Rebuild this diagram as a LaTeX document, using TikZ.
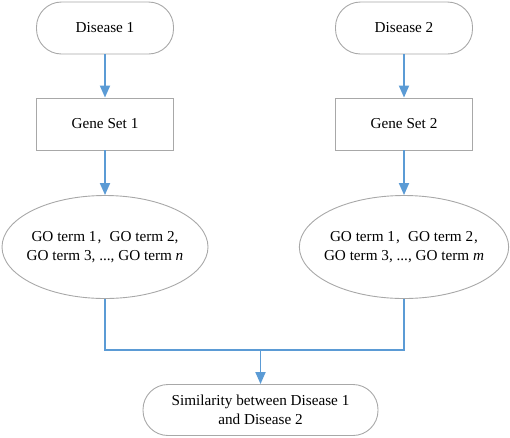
\documentclass[tikz,border=0pt]{standalone}
\usepackage{fontspec}
\setmainfont{Liberation Serif}
\usetikzlibrary{shapes.geometric,arrows.meta}
\definecolor{edgegray}{HTML}{A8A8A8}
\definecolor{flowblue}{HTML}{5B9BD5}
\tikzset{
  base/.style={draw=edgegray,line width=0.9pt,font=\fontsize{15.2}{18.5}\selectfont,align=center,inner sep=0pt,text=black},
  pill/.style={base,rectangle,rounded corners=25pt,minimum width=137pt,minimum height=52pt},
  boxnode/.style={base,rectangle,minimum width=137pt,minimum height=52pt},
  oval/.style={base,ellipse,inner xsep=-6pt,minimum width=206pt,minimum height=103pt},
  bigpill/.style={base,rectangle,rounded corners=25pt,minimum width=235pt,minimum height=51pt},
  flow/.style={draw=flowblue,line width=1.8pt},
  flowarrow/.style={flow,-{Triangle[width=10pt,length=12pt]}}
}
\begin{document}
\begin{tikzpicture}[x=1pt,y=-1pt]
\useasboundingbox (0,0) rectangle (510,437);
\node[pill] (d1) at (105,28) {Disease 1};
\node[pill] (d2) at (404,28) {Disease 2};
\node[boxnode] (g1) at (105,124) {Gene Set 1};
\node[boxnode] (g2) at (404,124) {Gene Set 2};
\node[oval] (e1) at (105,247) {GO term 1\kern1pt,\hspace{0.55em}GO term 2,\\GO term 3, ..., GO term \textit{n}};
\node[oval] (e2) at (404,247) {GO term 1\kern1pt,\hspace{0.55em}GO term 2\kern1pt,\\GO term 3, ..., GO term \textit{m}};
\node[bigpill] (s) at (260.5,410) {Similarity between Disease 1\\and Disease 2};
\coordinate (j) at (260.5,349);
\draw[flowarrow] (d1) -- (g1);
\draw[flowarrow] (d2) -- (g2);
\draw[flowarrow] (g1) -- (e1);
\draw[flowarrow] (g2) -- (e2);
\draw[flow] (e1.south) -- ++(0,51) -| (e2.south);
\draw[flowarrow] (j) -- (s);
\end{tikzpicture}
\end{document}
